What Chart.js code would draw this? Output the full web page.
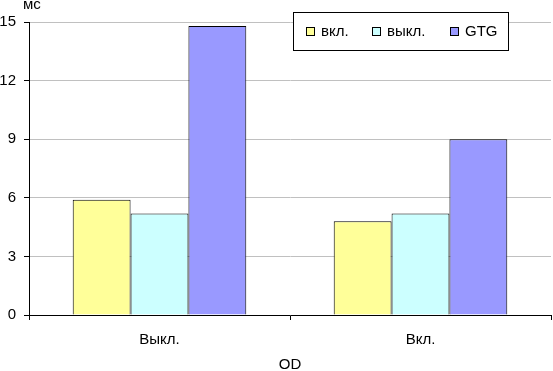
<!DOCTYPE html>
<html>
<head>
<meta charset="utf-8">
<script src="https://cdn.jsdelivr.net/npm/chart.js@4/dist/chart.umd.min.js"></script>
<style>
  html, body { margin: 0; padding: 0; background: #fff; }
  #wrap { width: 553px; height: 371px; }
</style>
</head>
<body>
<div id="wrap"><canvas id="chart"></canvas></div>
<script>
// данные
const categories = ['Выкл.', 'Вкл.'];
const seriesNames = ['вкл.', 'выкл.', 'GTG'];
const valuesOn = [5.9, 4.8];
const valuesOff = [5.2, 5.2];
const valuesGTG = [14.8, 9.0];
const yTicks = [0, 3, 6, 9, 12, 15];
const unitLabel = 'мс';
const axisTitle = 'OD';

const colors = ['#FFFF99', '#CCFFFF', '#9999FF'];
const FONT = "'Liberation Sans', Arial, sans-serif";

Chart.defaults.font.family = FONT;
Chart.defaults.font.size = 15;
Chart.defaults.color = '#000';

// легенда в рамке внутри области графика + подпись "мс"
const boxLegend = {
    id: 'boxLegend',
    afterDraw(chart) {
        const ctx = chart.ctx;
        ctx.save();
        ctx.font = '15px ' + FONT;
        ctx.fillStyle = '#000';
        ctx.textBaseline = 'middle';
        ctx.textAlign = 'left';
        ctx.fillText(unitLabel, 23, 5);

        const bx = 293.5, by = 12.5, bw = 215, bh = 38;
        ctx.fillStyle = '#fff';
        ctx.fillRect(bx, by, bw, bh);
        ctx.strokeStyle = '#000';
        ctx.lineWidth = 1;
        ctx.strokeRect(bx, by, bw, bh);

        const itemX = [306, 372, 450];
        chart.data.datasets.forEach((ds, i) => {
            const x = itemX[i];
            ctx.fillStyle = ds.backgroundColor;
            ctx.fillRect(x + 0.5, 27.5, 8, 8);
            ctx.strokeStyle = '#000';
            ctx.strokeRect(x + 0.5, 27.5, 8, 8);
            ctx.fillStyle = '#000';
            ctx.fillText(ds.label, x + 15, 32);
        });
        ctx.restore();
    }
};

new Chart(document.getElementById('chart'), {
    type: 'bar',
    data: {
        labels: categories,
        datasets: [
            { label: seriesNames[0], data: valuesOn, backgroundColor: colors[0] },
            { label: seriesNames[1], data: valuesOff, backgroundColor: colors[1] },
            { label: seriesNames[2], data: valuesGTG, backgroundColor: colors[2] }
        ]
    },
    options: {
        responsive: true,
        maintainAspectRatio: false,
        animation: false,
        layout: { padding: { left: 0, right: 2, top: 22, bottom: 0 } },
        datasets: {
            bar: {
                borderColor: '#000',
                borderWidth: 1,
                barPercentage: 1,
                categoryPercentage: 0.665
            }
        },
        plugins: {
            legend: { display: false },
            tooltip: { enabled: false }
        },
        scales: {
            x: {
                grid: {
                    offset: true,
                    drawOnChartArea: true,
                    color: c => c.index === categories.length ? '#c0c0c0' : 'rgba(0,0,0,0)',
                    tickColor: '#000',
                    tickLength: 5
                },
                border: { color: '#000', width: 1 },
                ticks: { padding: 11 },
                title: { display: true, text: axisTitle, font: { lineHeight: 0.8 }, padding: { top: 0, bottom: 0 } },
                afterFit: s => { s.height = 56; }
            },
            y: {
                min: yTicks[0],
                max: yTicks[yTicks.length - 1],
                afterBuildTicks: s => { s.ticks = yTicks.map(v => ({ value: v })); },
                grid: {
                    color: '#c0c0c0',
                    tickColor: '#000',
                    tickLength: 5
                },
                border: { color: '#000', width: 1 },
                ticks: { padding: 8 },
                afterFit: s => { s.width = 29; }
            }
        }
    },
    plugins: [boxLegend]
});
</script>
</body>
</html>
